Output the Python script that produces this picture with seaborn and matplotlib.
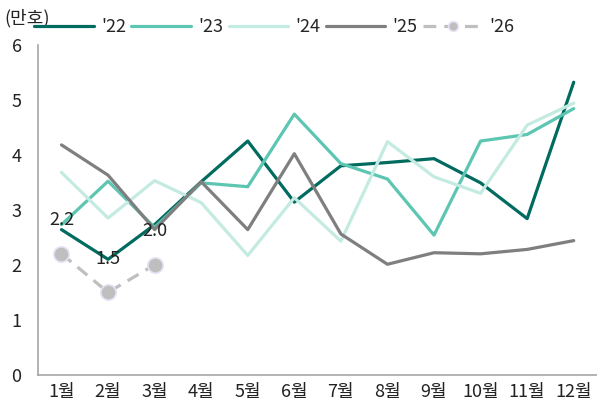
import numpy as np
import pandas as pd
import seaborn as sns
import matplotlib.pyplot as plt
from matplotlib.ticker import FixedLocator

# Data (unit: 만호)
months = ["1월", "2월", "3월", "4월", "5월", "6월", "7월", "8월", "9월", "10월", "11월", "12월"]
y22 = [2.64, 2.10, 2.73, 3.51, 4.25, 3.14, 3.80, 3.86, 3.93, 3.49, 2.84, 5.32]
y23 = [2.73, 3.52, 2.68, 3.49, 3.42, 4.74, 3.84, 3.56, 2.54, 4.25, 4.37, 4.84]
y24 = [3.68, 2.85, 3.53, 3.13, 2.17, 3.22, 2.43, 4.24, 3.60, 3.30, 4.54, 4.94]
y25 = [4.18, 3.63, 2.64, 3.51, 2.64, 4.02, 2.56, 2.01, 2.22, 2.20, 2.28, 2.44]
y26 = [2.2, 1.5, 2.0]

series = {"'22": y22, "'23": y23, "'24": y24, "'25": y25}
colors = {"'22": "#006B5E", "'23": "#5CC6B2", "'24": "#C3EBE1", "'25": "#7F7F7F"}

sns.set_style("white")
plt.rcParams["font.family"] = ["Noto Sans CJK KR", "DejaVu Sans"]

fig = plt.figure(figsize=(5.97, 4.11), dpi=100)
ax = fig.add_axes([0.064, 0.088, 0.936, 0.803])

x = np.arange(len(months))
for name, vals in series.items():
    sns.lineplot(x=x, y=vals, ax=ax, color=colors[name], lw=2.3, label=name)

df26 = pd.DataFrame({"m": x[:len(y26)], "v": y26})
sns.lineplot(data=df26, x="m", y="v", ax=ax, color="#BFBFBF", lw=2.3,
             linestyle=(0, (4, 2.5)), marker="o", markersize=11,
             markerfacecolor="#BFBFBF", markeredgecolor="#E8E0F4",
             markeredgewidth=1.2, label="'26")
for xi, v in zip(df26["m"], df26["v"]):
    ax.annotate(f"{v:.1f}", (xi, v), xytext=(0, 24), textcoords="offset points",
                ha="center", va="center", fontsize=13, color="#222222")

# axes
ax.set_xlim(-0.5, len(months) - 0.5)
ax.set_ylim(0, 6)
ax.set_xticks(x)
ax.set_xticklabels(months, fontsize=13)
ax.xaxis.set_minor_locator(FixedLocator(np.arange(-0.5, len(months), 1)))
ax.set_yticks(range(0, 7))
ax.set_yticklabels([str(i) for i in range(0, 7)], fontsize=13)
ax.tick_params(axis="x", which="major", length=0, pad=6)
ax.tick_params(axis="x", which="minor", length=5, color="#A6A6A6", direction="out")
ax.tick_params(axis="y", length=4, color="#A6A6A6", direction="out", pad=8)
ax.tick_params(colors="#222222", which="major")
for s in ["top", "right"]:
    ax.spines[s].set_visible(False)
for s in ["left", "bottom"]:
    ax.spines[s].set_color("#A6A6A6")
    ax.spines[s].set_linewidth(1.2)
ax.set_xlabel("")
ax.set_ylabel("")
ax.grid(False)

# legend across the top
handles, labels = ax.get_legend_handles_labels()
ax.get_legend().remove()
leg = fig.legend(handles, labels, loc="center left", bbox_to_anchor=(0.045, 0.934),
                 ncol=5, frameon=False, fontsize=13, handlelength=3.3,
                 handletextpad=0.4, columnspacing=0.3, borderaxespad=0)
leg.legend_handles[-1].set_markersize(7)
fig.text(0.008, 0.955, "(만호)", fontsize=13, ha="left", va="center", color="#222222")

fig.savefig("out.png", dpi=100)
